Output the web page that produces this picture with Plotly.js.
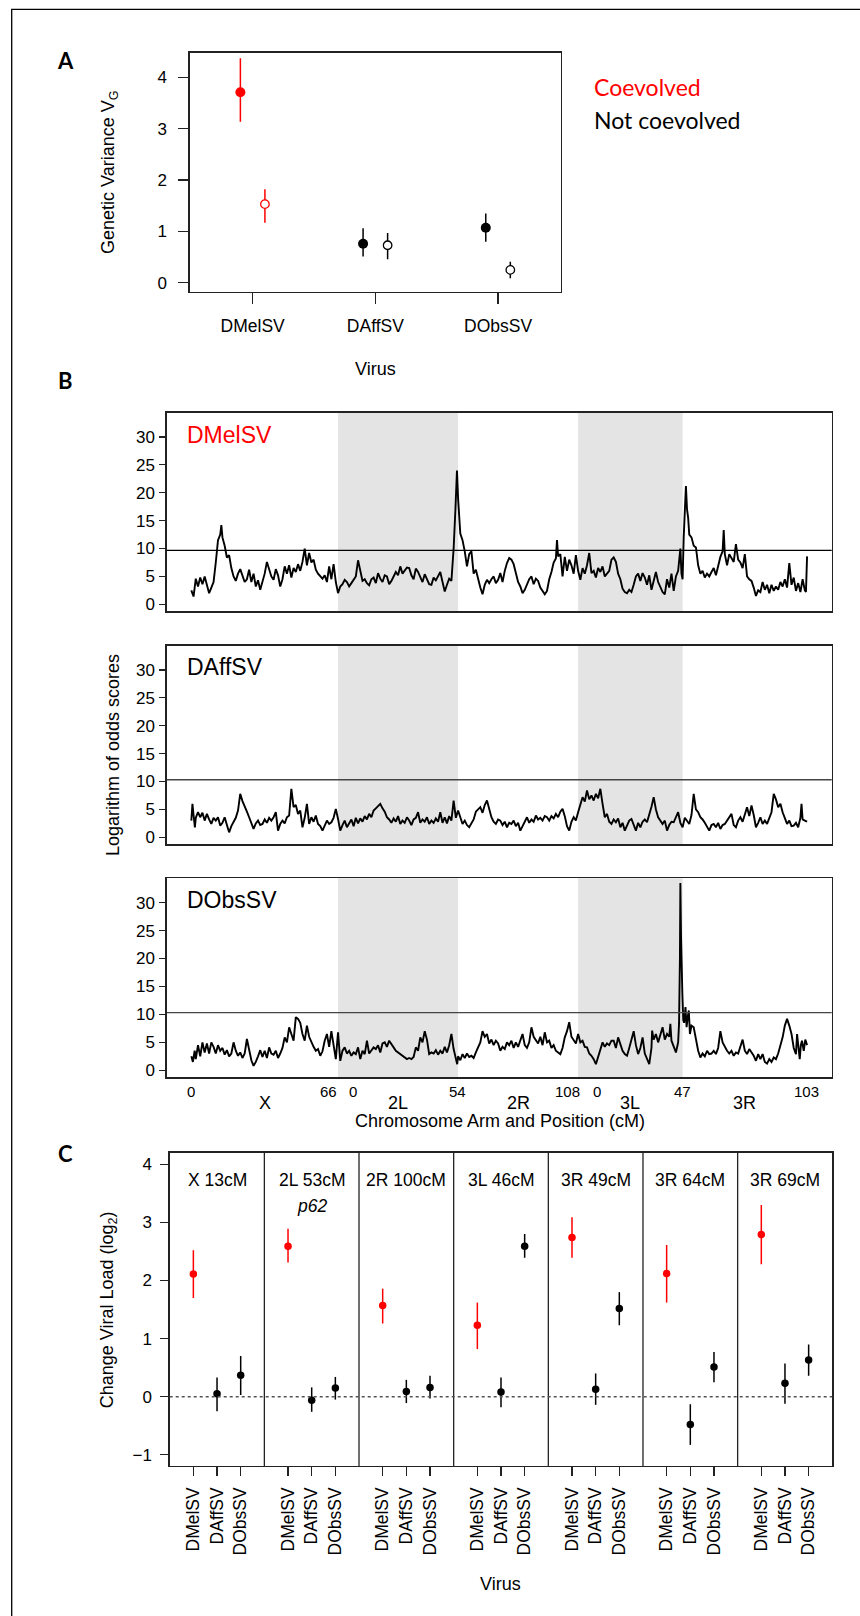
<!DOCTYPE html>
<html><head><meta charset="utf-8">
<script src="https://cdn.plot.ly/plotly-3.0.1.min.js"></script>
<style>html,body{margin:0;padding:0;background:#fff}#chart{width:860px;height:1616px}</style>
</head><body><div id="chart"></div>
<script>
// ---------------- Panel A data ----------------
const virusA = ['DMelSV','DAffSV','DObsSV'];
const vgFilled   = [3.71, 0.76, 1.07];
const vgFilledLo = [3.135, 0.51, 0.80];
const vgFilledHi = [4.37, 1.06, 1.35];
const vgOpen     = [1.53, 0.73, 0.25];
const vgOpenLo   = [1.17, 0.455, 0.085];
const vgOpenHi   = [1.82, 0.97, 0.41];
const legendLabels = ['Coevolved','Not coevolved'];

// ---------------- Panel B data ----------------
const armNames   = ['X','2L','2R','3L','3R'];
const armLengths = [66, 54, 54, 47, 56];
const shadedArms = ['2L','3L'];
const posTickText = ['0','66','0','54','108','0','47','103'];
const posTickAt   = [0, 66, 66, 120, 174, 174, 221, 277];
const lodPanels   = ['DMelSV','DAffSV','DObsSV'];
const lodThresholds = [9.68, 10.32, 10.32];

const dmelPos = [
0,1,2,3,4,5,6,7,8,9,
10,11,12,13,13.5,14,15,16,17,18,
19,20,21,22,23,24,25,26,27,28,
29,30,31,32,33,34,35,36,37,38,
39,40,41,42,43,44,45,46,47,48,
49,50,51,52,53,54,55,56,57,58,
59,60,61,62,63,64,65,66,67,68,
69,70,71,72,73,74,75,76,77,78,
79,80,81,82,83,84,85,86,87,88,
89,90,91,92,93,94,95,96,97,98,
99,100,101,102,103,104,105,106,107,108,
109,110,111,112,113,114,115,116,117,118,
118.8,119.5,120,120.5,121,122,123,124,125,126,
127,128,129,130,131,132,133,134,135,136,
137,138,139,140,141,142,143,144,145,146,
147,148,149,150,151,152,153,154,155,156,
157,158,159,160,161,162,163,164,164.5,165,
166,167,168,169,170,171,172,173,174,175,
176,177,178,179,180,181,182,183,184,185,
186,187,188,189,190,191,192,193,194,195,
196,197,198,199,200,201,202,203,204,205,
206,207,208,209,210,211,212,213,214,215,
216,217,218,219,220,220.5,221,221.5,222,222.5,
223,223.5,224,225,226,227,228,229,230,231,
232,233,234,235,236,237,238,239,239.5,240,
241,242,243,244,245,246,247,248,249,250,
251,252,253,254,255,256,257,258,259,260,
261,262,263,264,265,266,267,268,269,270,
271,272,273,274,275,276,276.5,277];
const dmelLod = [
2.5,1.4,4.6,3.2,4.8,3.6,5.0,3.4,2.0,3.0,
4.0,7.5,11.5,12.5,14.2,12.0,10.5,8.4,8.8,6.5,
5.0,4.2,5.5,6.3,5.0,4.0,4.5,6.2,4.0,5.5,
3.2,4.3,2.6,4.0,5.5,7.6,6.2,5.0,4.4,6.3,
5.2,3.2,4.5,6.8,5.5,7.0,4.8,6.5,5.8,7.2,
6.0,7.6,10.0,7.0,9.2,7.5,8.0,6.2,5.5,5.0,
4.6,5.2,4.0,6.8,4.5,7.2,4.0,2.0,3.2,3.6,
4.4,4.0,3.2,3.8,4.4,5.0,7.9,6.0,4.2,4.5,
3.8,3.4,4.5,4.8,3.8,5.6,4.6,4.0,5.2,5.0,
3.6,4.2,5.0,5.8,5.2,6.8,5.5,6.0,6.6,6.5,
5.2,4.5,6.4,5.8,4.8,4.0,5.4,4.5,3.6,3.5,
4.8,4.3,5.2,5.8,4.0,2.3,3.5,4.6,4.2,10.0,
17.0,24.0,19.0,16.0,12.7,11.5,9.5,6.8,9.0,9.5,
5.5,6.2,4.5,3.0,1.8,3.5,4.4,3.8,4.5,5.0,
3.8,4.4,5.6,4.0,6.0,7.4,8.3,8.0,7.2,5.5,
4.0,3.2,2.0,2.6,3.5,4.5,5.0,3.6,4.6,4.2,
3.0,2.5,1.8,2.4,4.5,5.8,7.5,8.2,11.5,8.6,
9.0,5.0,8.5,6.0,8.0,7.0,5.5,8.8,6.0,4.4,
6.5,5.5,7.0,9.2,5.6,6.0,4.8,6.5,5.8,6.8,
5.0,5.5,6.0,8.0,8.4,7.6,5.5,4.5,2.8,2.2,
2.0,2.6,2.2,3.5,5.0,5.5,4.2,5.6,4.8,3.5,
5.2,2.6,4.5,5.8,4.0,3.0,2.2,1.8,4.5,3.0,
5.5,2.4,5.0,6.0,10.0,5.5,4.5,12.0,16.3,21.2,
17.0,15.5,12.5,12.0,10.5,10.2,7.0,5.5,6.0,4.8,
5.5,5.0,5.8,6.5,5.2,7.0,8.5,9.5,13.3,9.0,
7.0,9.0,8.4,7.6,10.8,8.0,7.5,6.5,9.0,5.0,
4.5,4.2,3.0,1.5,2.5,2.2,4.0,2.6,3.5,2.0,
3.5,2.4,3.2,2.6,4.0,3.2,4.5,3.0,7.4,3.5,
4.8,2.4,3.8,2.2,4.5,2.5,2.2,8.6];

const daffPos = [
0,0.5,1,1.6,2,3,4,5,6,7,
8,9,10,11,12,13,14,15,16,17,
18,19,20,21,22,23,24,25,26,27,
28,29,30,31,32,33,34,35,36,37,
38,39,40,41,42,43,44,45,46,47,
48,49,50,51,52,53,54,55,56,57,
58,59,60,61,62,63,64,65,66,67,
68,69,70,71,72,73,74,75,76,77,
78,79,80,81,82,83,84,85,86,87,
88,89,90,91,92,93,94,95,96,97,
98,99,100,101,102,103,104,105,106,107,
108,109,110,111,112,113,114,115,116,117,
118,119,120,121,122,123,124,125,126,127,
128,129,130,131,132,133,134,135,136,137,
138,139,140,141,142,143,144,145,146,147,
148,149,150,151,152,153,154,155,156,157,
158,159,160,161,162,163,164,165,166,167,
168,169,170,171,172,173,174,175,176,177,
178,179,180,181,182,183,184,185,186,187,
188,189,190,191,192,193,194,195,196,197,
198,199,200,201,202,203,204,205,206,207,
208,209,210,211,212,213,214,215,216,217,
218,219,220,221,222,223,224,225,226,227,
228,229,230,231,232,233,234,235,236,237,
238,239,240,241,242,243,244,245,246,247,
248,249,250,251,252,253,254,255,256,257,
258,259,260,261,262,263,264,265,266,267,
268,269,270,271,272,273,274,274.5,275,276,
277];
const daffLod = [
3.0,6.0,4.0,1.8,3.5,4.5,3.6,4.4,3.0,4.2,
3.2,2.4,3.5,3.0,3.6,2.1,2.6,3.6,2.2,0.9,
2.0,2.7,3.5,4.8,7.8,6.5,5.7,4.6,3.6,2.4,
1.5,2.5,3.0,2.2,2.4,3.2,2.6,3.5,3.0,3.6,
4.5,1.2,2.4,3.0,2.5,3.6,3.9,8.7,5.4,5.8,
4.2,4.8,1.8,3.5,6.0,2.4,3.6,2.8,3.9,2.4,
2.0,1.2,2.2,3.0,2.4,2.7,3.5,5.1,3.3,1.2,
2.2,3.0,1.8,2.6,3.2,2.0,3.5,2.5,3.4,2.8,
3.8,3.2,4.2,3.6,4.8,5.2,5.6,6.0,5.2,4.6,
3.6,3.2,2.6,3.4,2.8,3.8,2.4,3.0,2.6,3.6,
3.0,2.2,3.2,3.5,4.5,2.6,3.2,2.8,3.6,2.4,
3.0,2.6,3.4,2.8,4.5,2.6,3.6,2.5,3.8,3.0,
6.6,3.5,4.8,3.5,2.4,3.0,2.2,1.8,2.6,3.2,
4.6,5.0,5.4,4.4,5.8,6.6,5.0,3.6,2.8,2.4,
3.2,3.0,2.2,2.8,1.8,2.6,2.4,3.0,2.0,2.6,
1.2,2.0,3.0,3.6,2.6,3.2,2.8,3.9,3.2,3.5,
3.0,3.8,3.6,3.0,3.8,3.4,4.2,3.6,4.6,5.1,
3.8,2.0,1.2,2.8,3.6,3.0,4.5,6.0,7.2,6.4,
8.4,6.8,7.5,6.6,7.8,7.0,8.7,6.0,3.6,4.2,
2.8,2.4,3.2,2.7,3.4,1.8,2.6,1.2,2.2,3.0,
3.3,2.4,1.2,2.6,1.8,2.8,3.2,2.7,4.0,5.5,
7.2,5.0,3.6,3.0,2.4,3.0,1.2,2.2,2.8,2.7,
3.5,4.5,2.6,1.8,3.5,3.0,2.4,4.0,7.8,5.0,
4.5,3.6,3.2,2.6,2.0,1.2,2.2,2.4,1.8,2.6,
1.5,2.2,2.4,3.0,3.6,4.2,2.2,1.8,3.0,3.6,
2.8,4.2,5.4,3.8,5.7,4.0,1.8,2.6,3.6,2.4,
3.0,2.4,3.3,4.5,7.8,6.8,5.4,6.0,4.5,3.6,
2.4,3.0,2.0,2.1,2.6,1.8,3.5,6.0,3.2,3.0,
2.8];

const dobsPos = [
0,0.7,1.5,2,3,4,5,6,7,8,
9,10,11,12,13,14,15,16,17,18,
19,20,21,22,23,24,25,26,27,28,
29,30,31,32,33,34,35,36,37,38,
39,40,41,42,43,44,45,46,47,48,
49,50,51,52,53,54,55,56,57,58,
59,60,61,62,63,64,65,66,67,68,
69,70,71,72,73,74,75,76,77,78,
79,80,81,82,83,84,85,86,87,88,
89,90,91,92,93,94,95,96,97,98,
99,100,101,102,103,104,105,106,107,108,
109,110,111,112,113,114,115,116,117,118,
119,119.6,120,121,122,123,124,125,126,127,
128,129,130,131,132,133,134,135,136,137,
138,139,140,141,142,143,144,145,146,147,
148,149,150,151,152,153,154,155,156,157,
158,159,160,161,162,163,164,165,166,167,
168,169,170,171,172,173,174,175,176,177,
178,179,180,181,182,183,184,185,186,187,
188,189,190,191,192,193,194,195,196,197,
198,199,200,201,202,203,204,205,206,207,
207.3,208,209,210,211,212,213,214,215,215.5,
216,217,218,219,219.4,219.8,220,220.3,220.6,220.9,
221.3,221.7,222.3,222.8,223.3,223.8,224.3,225,226,227,
228,229,230,231,232,233,234,235,236,237,
238,239,240,241,242,243,244,245,246,247,
248,249,250,251,252,253,254,255,256,257,
258,259,260,261,262,263,264,265,266,267,
268,269,270,271,272,272.5,273,273.7,274.2,274.7,
275.5,276.2,277];
const dobsLod = [
2.5,1.5,3.5,2.0,4.5,2.5,5.0,3.2,4.8,3.0,
5.0,4.2,3.0,4.5,3.5,4.0,2.8,3.6,2.5,3.0,
5.0,3.5,2.6,3.2,2.2,3.0,5.6,3.5,1.8,0.8,
1.5,2.5,3.6,2.4,3.5,2.2,4.1,3.0,2.8,3.5,
2.2,3.0,4.0,5.9,5.0,7.7,6.5,5.3,9.5,9.2,
8.5,6.5,5.3,8.0,6.0,5.0,4.2,3.5,3.8,2.6,
3.4,5.3,6.5,4.2,7.0,4.5,2.0,6.8,1.7,3.5,
4.1,3.0,3.5,2.6,3.2,2.9,4.1,2.0,3.5,2.9,
5.3,3.0,3.5,4.1,3.8,4.5,3.2,4.8,5.0,4.2,
5.3,4.6,4.1,3.5,3.2,2.9,2.5,2.3,2.0,2.2,
2.0,2.4,4.1,3.5,5.9,5.0,7.0,5.5,2.9,3.2,
3.0,3.6,2.8,3.5,3.0,4.2,3.2,4.5,6.5,3.8,
2.0,1.1,2.5,1.8,2.9,2.2,3.0,2.4,2.6,2.2,
3.2,4.0,5.0,7.0,6.0,6.5,4.8,5.5,4.5,5.3,
4.8,3.5,4.2,3.8,5.0,4.5,5.3,4.0,5.0,4.2,
5.5,6.5,4.5,4.0,5.0,7.7,6.0,5.5,4.8,6.0,
4.5,6.8,5.0,5.3,4.0,4.5,3.5,3.2,2.9,4.0,
5.9,7.0,8.6,6.0,5.3,4.8,6.5,5.0,5.3,4.2,
4.1,3.0,2.6,2.0,1.1,2.5,4.0,5.0,4.2,4.8,
4.5,5.3,5.3,4.0,5.9,4.5,3.5,2.9,2.6,4.0,
5.5,7.0,4.5,2.9,4.0,5.9,3.0,2.0,1.1,4.0,
7.1,5.5,6.5,5.0,6.2,7.7,5.5,6.5,6.0,8.3,
5.3,4.1,3.2,5.0,8.3,20.0,33.5,24.0,16.0,13.7,
9.0,8.5,11.3,7.7,9.5,10.7,6.5,8.0,7.7,5.5,
3.5,2.3,3.0,2.5,3.5,2.9,3.0,3.5,2.9,4.0,
7.0,5.0,4.1,3.5,3.0,3.5,2.6,3.2,3.0,4.5,
5.5,3.5,2.9,3.8,3.2,2.6,1.7,2.9,2.0,2.9,
1.5,1.2,2.0,1.5,2.3,2.0,3.0,4.5,5.9,8.0,
9.2,8.0,6.5,4.0,2.9,6.5,4.5,2.0,4.5,5.3,
3.5,5.5,4.5];

// ---------------- Panel C data ----------------
const locusLabels = ['X 13cM','2L 53cM','2R 100cM','3L 46cM','3R 49cM','3R 64cM','3R 69cM'];
const geneLabel = 'p62';
const virusC = ['DMelSV','DAffSV','DObsSV'];
const loadMel   = [2.11, 2.59, 1.57, 1.23, 2.74, 2.12, 2.79];
const loadMelLo = [1.70, 2.31, 1.26, 0.82, 2.39, 1.62, 2.28];
const loadMelHi = [2.52, 2.89, 1.86, 1.62, 3.09, 2.61, 3.30];
const loadAff   = [0.05, -0.06, 0.09, 0.08, 0.13, -0.48, 0.23];
const loadAffLo = [-0.25, -0.26, -0.11, -0.18, -0.14, -0.83, -0.12];
const loadAffHi = [0.33, 0.16, 0.29, 0.33, 0.40, -0.13, 0.57];
const loadObs   = [0.37, 0.15, 0.16, 2.59, 1.52, 0.51, 0.63];
const loadObsLo = [0.03, -0.05, -0.03, 2.39, 1.23, 0.25, 0.36];
const loadObsHi = [0.70, 0.34, 0.36, 2.80, 1.80, 0.77, 0.90];

// ---------------- build ----------------
const W = 860, H = 1616;
const px = v => v / W, py = v => 1 - v / H;
const FONT = 'Liberation Sans, Arial, Helvetica, sans-serif';
const CAL = 'Lato, Open Sans, sans-serif';
const RED = '#ff0000';
const colorOf = name => name === 'DMelSV' ? RED : '#000000';

const traces = [];
// Panel A
virusA.forEach((v, i) => {
  const c = colorOf(v);
  traces.push({type:'scatter', mode:'markers', xaxis:'x', yaxis:'y',
    x:[i + 1 - 0.1], y:[vgFilled[i]],
    marker:{size:10, color:c, line:{width:0}},
    error_y:{type:'data', symmetric:false, array:[vgFilledHi[i]-vgFilled[i]], arrayminus:[vgFilled[i]-vgFilledLo[i]], color:c, thickness:1.5, width:0},
    hoverinfo:'skip'});
  traces.push({type:'scatter', mode:'markers', xaxis:'x', yaxis:'y',
    x:[i + 1 + 0.1], y:[vgOpen[i]],
    marker:{size:8.5, color:'#ffffff', line:{width:1.3, color:c}},
    error_y:{type:'data', symmetric:false, array:[vgOpenHi[i]-vgOpen[i]], arrayminus:[vgOpen[i]-vgOpenLo[i]], color:c, thickness:1.5, width:0},
    hoverinfo:'skip'});
});
// Panel B
const lodData = [[dmelPos, dmelLod],[daffPos, daffLod],[dobsPos, dobsLod]];
lodData.forEach((d, k) => {
  traces.push({type:'scatter', mode:'lines', xaxis:'x'+(k+2), yaxis:'y'+(k+2),
    x:d[0], y:d[1], line:{color:'#000', width:1.9}, hoverinfo:'skip'});
});
// Panel C
const cSets = [[loadMel, loadMelLo, loadMelHi],[loadAff, loadAffLo, loadAffHi],[loadObs, loadObsLo, loadObsHi]];
virusC.forEach((v, j) => {
  const [val, lo, hi] = cSets[j];
  const c = colorOf(v);
  traces.push({type:'scatter', mode:'markers', xaxis:'x5', yaxis:'y5',
    x: locusLabels.map((_, g) => 4*g + j + 1), y: val,
    marker:{size:7.5, color:c},
    error_y:{type:'data', symmetric:false, array: val.map((y,i)=>hi[i]-y), arrayminus: val.map((y,i)=>y-lo[i]), color:c, thickness:1.5, width:0},
    hoverinfo:'skip'});
});

const axBase = {showgrid:false, zeroline:false, showline:true, mirror:true, linecolor:'#222', linewidth:1.3,
  ticks:'outside', tickcolor:'#222', tickwidth:1.2, tickfont:{family:FONT, size:17, color:'#000'}, fixedrange:true};

const layout = {
  width:W, height:H, margin:{l:0,r:0,t:0,b:0}, showlegend:false,
  paper_bgcolor:'#fff', plot_bgcolor:'#fff',
  xaxis: Object.assign({}, axBase, {domain:[px(189.7), px(561)], range:[0.487, 3.513], anchor:'y',
    tickmode:'array', tickvals:[1,2,3], ticktext:virusA, ticklen:11, tickfont:{family:FONT,size:17.5,color:'#000'}, ticklabelstandoff:7}),
  yaxis: Object.assign({}, axBase, {domain:[py(291.7), py(52.7)], range:[-0.175, 4.48], anchor:'x',
    tickmode:'array', tickvals:[0,1,2,3,4], ticklen:10, ticklabelstandoff:8}),
  shapes: [], annotations: []
};
[2,3,4].forEach((k, idx) => {
  const tops = [412.7, 645.7, 878.3], bots = [611.3, 844.3, 1077.3];
  layout['xaxis'+k] = Object.assign({}, axBase, {domain:[px(166.7), px(831.7)], range:[-11.08, 288.08], anchor:'y'+k,
    showticklabels:false, ticks:''});
  layout['yaxis'+k] = Object.assign({}, axBase, {domain:[py(bots[idx]), py(tops[idx])], range:[-1.25, 34.35], anchor:'x'+k,
    tickmode:'array', tickvals:[0,5,10,15,20,25,30], ticklen:6, ticklabelstandoff:1});
});
layout.xaxis5 = Object.assign({}, axBase, {domain:[px(169.7), px(832.3)], range:[0, 28], anchor:'y5',
  tickmode:'array', tickvals: locusLabels.flatMap((_, g) => virusC.map((_, j) => 4*g + j + 1)),
  ticktext: locusLabels.flatMap(() => virusC), tickangle:-90, ticklen:9, tickfont:{family:FONT,size:17.5,color:'#000'}, ticklabelstandoff:4});
layout.yaxis5 = Object.assign({}, axBase, {domain:[py(1466), py(1152.7)], range:[-1.193, 4.2], anchor:'x5',
  tickmode:'array', tickvals:[-1,0,1,2,3,4], ticklen:8, ticklabelstandoff:5});

// outer frame
layout.shapes.push({type:'rect', xref:'paper', yref:'paper', x0:px(11.7), x1:1.05, y0:-0.05, y1:py(9.3), line:{color:'#000', width:1.3}});
// chromosome shading & thresholds
const armStart = armLengths.map((_, i) => armLengths.slice(0, i).reduce((a,b)=>a+b, 0));
[2,3,4].forEach((k, idx) => {
  shadedArms.forEach(a => {
    const i = armNames.indexOf(a);
    layout.shapes.push({type:'rect', xref:'x'+k, yref:'y'+k+' domain', x0:armStart[i], x1:armStart[i]+armLengths[i], y0:0, y1:1,
      fillcolor:'#e4e4e4', line:{width:0}, layer:'below'});
  });
  layout.shapes.push({type:'line', xref:'x'+k+' domain', yref:'y'+k, x0:0, x1:1, y0:lodThresholds[idx], y1:lodThresholds[idx],
    line:{color: idx===0 ? '#000' : '#444', width:1.4}});
});
// panel C dividers and zero line
locusLabels.slice(0, -1).forEach((_, g) => {
  layout.shapes.push({type:'line', xref:'x5', yref:'y5 domain', x0:4*(g+1), x1:4*(g+1), y0:0, y1:1, line:{color:'#222', width:1.3}});
});
layout.shapes.push({type:'line', xref:'x5 domain', yref:'y5', x0:0, x1:1, y0:0, y1:0, line:{color:'#555', width:1.6, dash:'dot'}});

const ann = (o) => layout.annotations.push(Object.assign({showarrow:false, xref:'paper', yref:'paper', xanchor:'center', yanchor:'middle'}, o));
// panel letters
[['A',60],['B',380.7],['C',1153]].forEach(([t, y]) => ann({text:'<b>'+t+'</b>', x:px(65.7), y:py(y), font:{family:CAL, size:22, color:'#000'}}));
// legend
ann({text:legendLabels[0], x:px(592), y:py(87.3), xanchor:'left', font:{family:CAL, size:23, color:RED}});
ann({text:legendLabels[1], x:px(592), y:py(120), xanchor:'left', font:{family:CAL, size:23, color:'#000'}});
// panel A titles
ann({text:'Genetic Variance V<sub>G</sub>', x:px(110), y:py(172), textangle:-90, font:{family:FONT, size:18, color:'#000'}});
ann({text:'Virus', x:px(375.3), y:py(369), font:{family:FONT, size:18, color:'#000'}});
// panel B
ann({text:'Logarithm of odds scores', x:px(113), y:py(755), textangle:-90, font:{family:FONT, size:18, color:'#000'}});
[435, 666.7, 900].forEach((y, k) => ann({text:lodPanels[k], x:px(185), y:py(y), xanchor:'left', font:{family:FONT, size:23, color: k===0 ? RED : '#000'}}));
const tickAnchor = ['center','right','left','center','right','left','center','center'];
const tickShift  = [0, 1, 9, -1, 4, 13, 0, -1];
posTickText.forEach((t, i) => ann({text:t, xref:'x4', x:posTickAt[i], y:py(1091), xanchor:tickAnchor[i], xshift:tickShift[i], font:{family:FONT, size:15, color:'#000'}}));
armNames.forEach((a, i) => ann({text:a, xref:'x4', x:armStart[i] + armLengths[i]/2, y:py(1102.5), font:{family:FONT, size:18, color:'#000'}}));
ann({text:'Chromosome Arm and Position (cM)', x:px(500), y:py(1121), font:{family:FONT, size:18, color:'#000'}});
// panel C
ann({text:'Change Viral Load (log<sub>2</sub>)', x:px(108.3), y:py(1310), textangle:-90, font:{family:FONT, size:18, color:'#000'}});
locusLabels.forEach((t, g) => ann({text:t, xref:'x5', x:4*g + 2, y:py(1180), font:{family:FONT, size:17.5, color:'#000'}}));
ann({text:'<i>'+geneLabel+'</i>', xref:'x5', x:6, y:py(1206), font:{family:FONT, size:17.5, color:'#000'}});
ann({text:'Virus', x:px(500.7), y:py(1584), font:{family:FONT, size:18, color:'#000'}});

Plotly.newPlot('chart', traces, layout, {staticPlot:true, displayModeBar:false});
</script>
</body></html>
